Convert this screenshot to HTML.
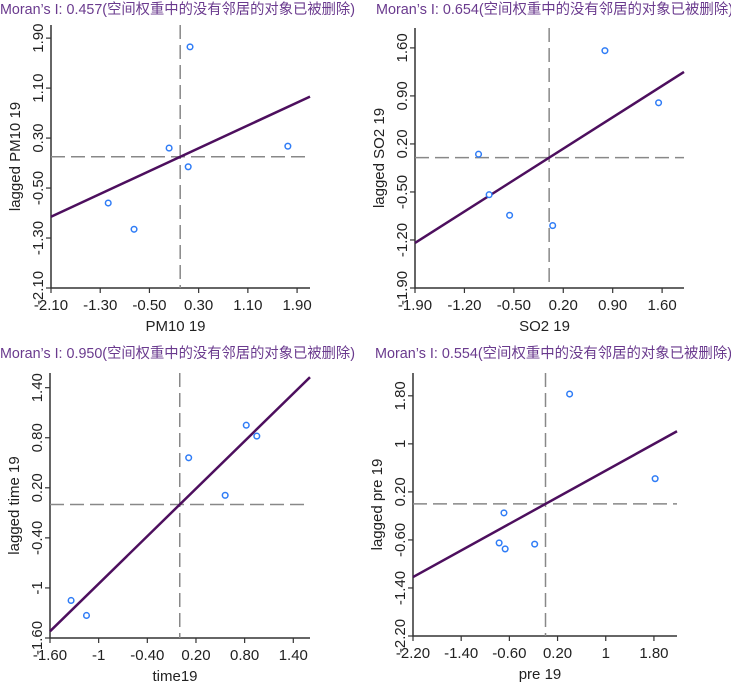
<!DOCTYPE html>
<html><head><meta charset="utf-8">
<style>
html,body{margin:0;padding:0;background:#fff;}
svg{display:block;font-family:"Liberation Sans","Noto Sans CJK SC",sans-serif;}
</style></head>
<body>
<svg id="chart" width="731" height="682" viewBox="0 0 731 682" xmlns="http://www.w3.org/2000/svg"></svg>
<script>
// ---- data ----
const titles = ["Moran’s I: 0.457(空间权重中的没有邻居的对象已被删除)","Moran’s I: 0.654(空间权重中的没有邻居的对象已被删除)","Moran’s I: 0.950(空间权重中的没有邻居的对象已被删除)","Moran’s I: 0.554(空间权重中的没有邻居的对象已被删除)"];
const moranI = [0.457, 0.654, 0.950, 0.554];
const xTitles = ["PM10  19","SO2   19","time19","pre  19"];
const yTitles = ["lagged  PM10 19","lagged  SO2 19","lagged  time 19","lagged  pre 19"];
const xTickLabels1 = ["-2.10","-1.30","-0.50","0.30","1.10","1.90"];
const xTickLabels2 = ["-1.90","-1.20","-0.50","0.20","0.90","1.60"];
const xTickLabels3 = ["-1.60","-1","-0.40","0.20","0.80","1.40"];
const xTickLabels4 = ["-2.20","-1.40","-0.60","0.20","1","1.80"];
const yTickLabels1 = ["-2.10","-1.30","-0.50","0.30","1.10","1.90"];
const yTickLabels2 = ["-1.90","-1.20","-0.50","0.20","0.90","1.60"];
const yTickLabels3 = ["-1.60","-1","-0.40","0.20","0.80","1.40"];
const yTickLabels4 = ["-2.20","-1.40","-0.60","0.20","1","1.80"];
const xs1 = [-1.17,-0.75,-0.18,0.13,0.16,1.75];
const ys1 = [-0.74,-1.16,0.14,-0.16,1.76,0.17];
const xs2 = [-1.00,-0.85,-0.56,0.05,0.79,1.55];
const ys2 = [0.05,-0.54,-0.84,-0.99,1.56,0.80];
const xs3 = [-1.34,-1.15,0.11,0.56,0.82,0.95];
const ys3 = [-1.15,-1.33,0.56,0.11,0.95,0.82];
const xs4 = [0.40,1.82,-0.69,-0.77,-0.67,-0.18];
const ys4 = [1.83,0.42,-0.15,-0.65,-0.75,-0.67];

// ---- layout (not data) ----
const panels = [
  {left:51,right:310,top:25,bottom:288,xmin:-2.10,xmax:2.11,ymin:-2.10,ymax:2.11,tx:0,ty:14,tw:355,xt:xTickLabels1,yt:yTickLabels1,xs:xs1,ys:ys1},
  {left:415,right:684,top:28,bottom:288,xmin:-1.90,xmax:1.91,ymin:-1.90,ymax:1.89,tx:376,ty:14,tw:357,xt:xTickLabels2,yt:yTickLabels2,xs:xs2,ys:ys2},
  {left:50,right:310,top:373,bottom:638,xmin:-1.60,xmax:1.606,ymin:-1.60,ymax:1.576,tx:0,ty:358,tw:355,xt:xTickLabels3,yt:yTickLabels3,xs:xs3,ys:ys3},
  {left:413,right:677,top:373,bottom:636,xmin:-2.20,xmax:2.183,ymin:-2.20,ymax:2.18,tx:375,ty:358,tw:357,xt:xTickLabels4,yt:yTickLabels4,xs:xs4,ys:ys4}
];
const svg = document.getElementById('chart');
const NS = 'http://www.w3.org/2000/svg';
function mk(tag, attrs, parent){ const e=document.createElementNS(NS,tag); for(const k in attrs) e.setAttribute(k,attrs[k]); parent.appendChild(e); return e; }

panels.forEach((p,i)=>{
  const g = mk('g',{},svg);
  
  
  const sx = v => p.left + (v-p.xmin)/(p.xmax-p.xmin)*(p.right-p.left);
  const sy = v => p.bottom - (v-p.ymin)/(p.ymax-p.ymin)*(p.bottom-p.top);
  const t = mk('text',{x:p.tx,y:p.ty,'font-size':14.5,fill:'#6a3a8e',textLength:p.tw,lengthAdjust:'spacingAndGlyphs'},g);
  t.textContent = titles[i];
  
  
  const ax = mk('path',{d:`M${p.left},${p.top}V${p.bottom}H${p.right}`,stroke:'#333',fill:'none','stroke-width':1.5},g);
  
  
  p.xt.forEach((lab)=>{
    const v = parseFloat(lab), x = sx(v);
    mk('line',{x1:x,x2:x,y1:p.bottom,y2:p.bottom+5,stroke:'#333','stroke-width':1.2},g);
    const tt = mk('text',{x:x,y:p.bottom+22,'font-size':15,fill:'#222','text-anchor':'middle'},g);
    tt.textContent = lab;
    
    
  });
  p.yt.forEach((lab)=>{
    const v = parseFloat(lab), y = sy(v);
    mk('line',{x1:p.left-5,x2:p.left,y1:y,y2:y,stroke:'#333','stroke-width':1.2},g);
    const tx = p.left-8;
    const tt = mk('text',{x:tx,y:y,'font-size':15,fill:'#222','text-anchor':'middle',transform:`rotate(-90 ${tx} ${y})`},g);
    tt.textContent = lab;
    
    
  });
  const xtl = mk('text',{x:(p.left+p.right)/2 - 5,y:p.bottom+43,'font-size':15,fill:'#222','text-anchor':'middle'},g);
  xtl.textContent = xTitles[i];
  
  
  const yx = p.left-31, yy=(p.top+p.bottom)/2;
  const ytl = mk('text',{x:yx,y:yy,'font-size':15,fill:'#222','text-anchor':'middle',transform:`rotate(-90 ${yx} ${yy})`},g);
  ytl.textContent = yTitles[i];
  
  
  const vd = mk('line',{x1:sx(0),x2:sx(0),y1:p.top,y2:p.bottom,stroke:'#888','stroke-width':1.5,'stroke-dasharray':'14,6'},g);
  
  
  const hd = mk('line',{x1:p.left,x2:p.right,y1:sy(0),y2:sy(0),stroke:'#888','stroke-width':1.5,'stroke-dasharray':'14,6'},g);
  
  
  const s = moranI[i];
  let x0 = p.xmin, x1 = p.xmax;
  if (s*x0 < p.ymin) x0 = p.ymin/s;
  if (s*x1 > p.ymax) x1 = p.ymax/s;
  const rl = mk('line',{x1:sx(x0),y1:sy(s*x0),x2:sx(x1),y2:sy(s*x1),stroke:'#4d0f5e','stroke-width':2.5},g);
  
  
  p.xs.forEach((xv,k)=>{
    const c = mk('circle',{cx:sx(xv),cy:sy(p.ys[k]),r:2.8,fill:'#fff',stroke:'#2f7cf6','stroke-width':1.5},g);
    
    
  });
});
</script>
</body></html>
